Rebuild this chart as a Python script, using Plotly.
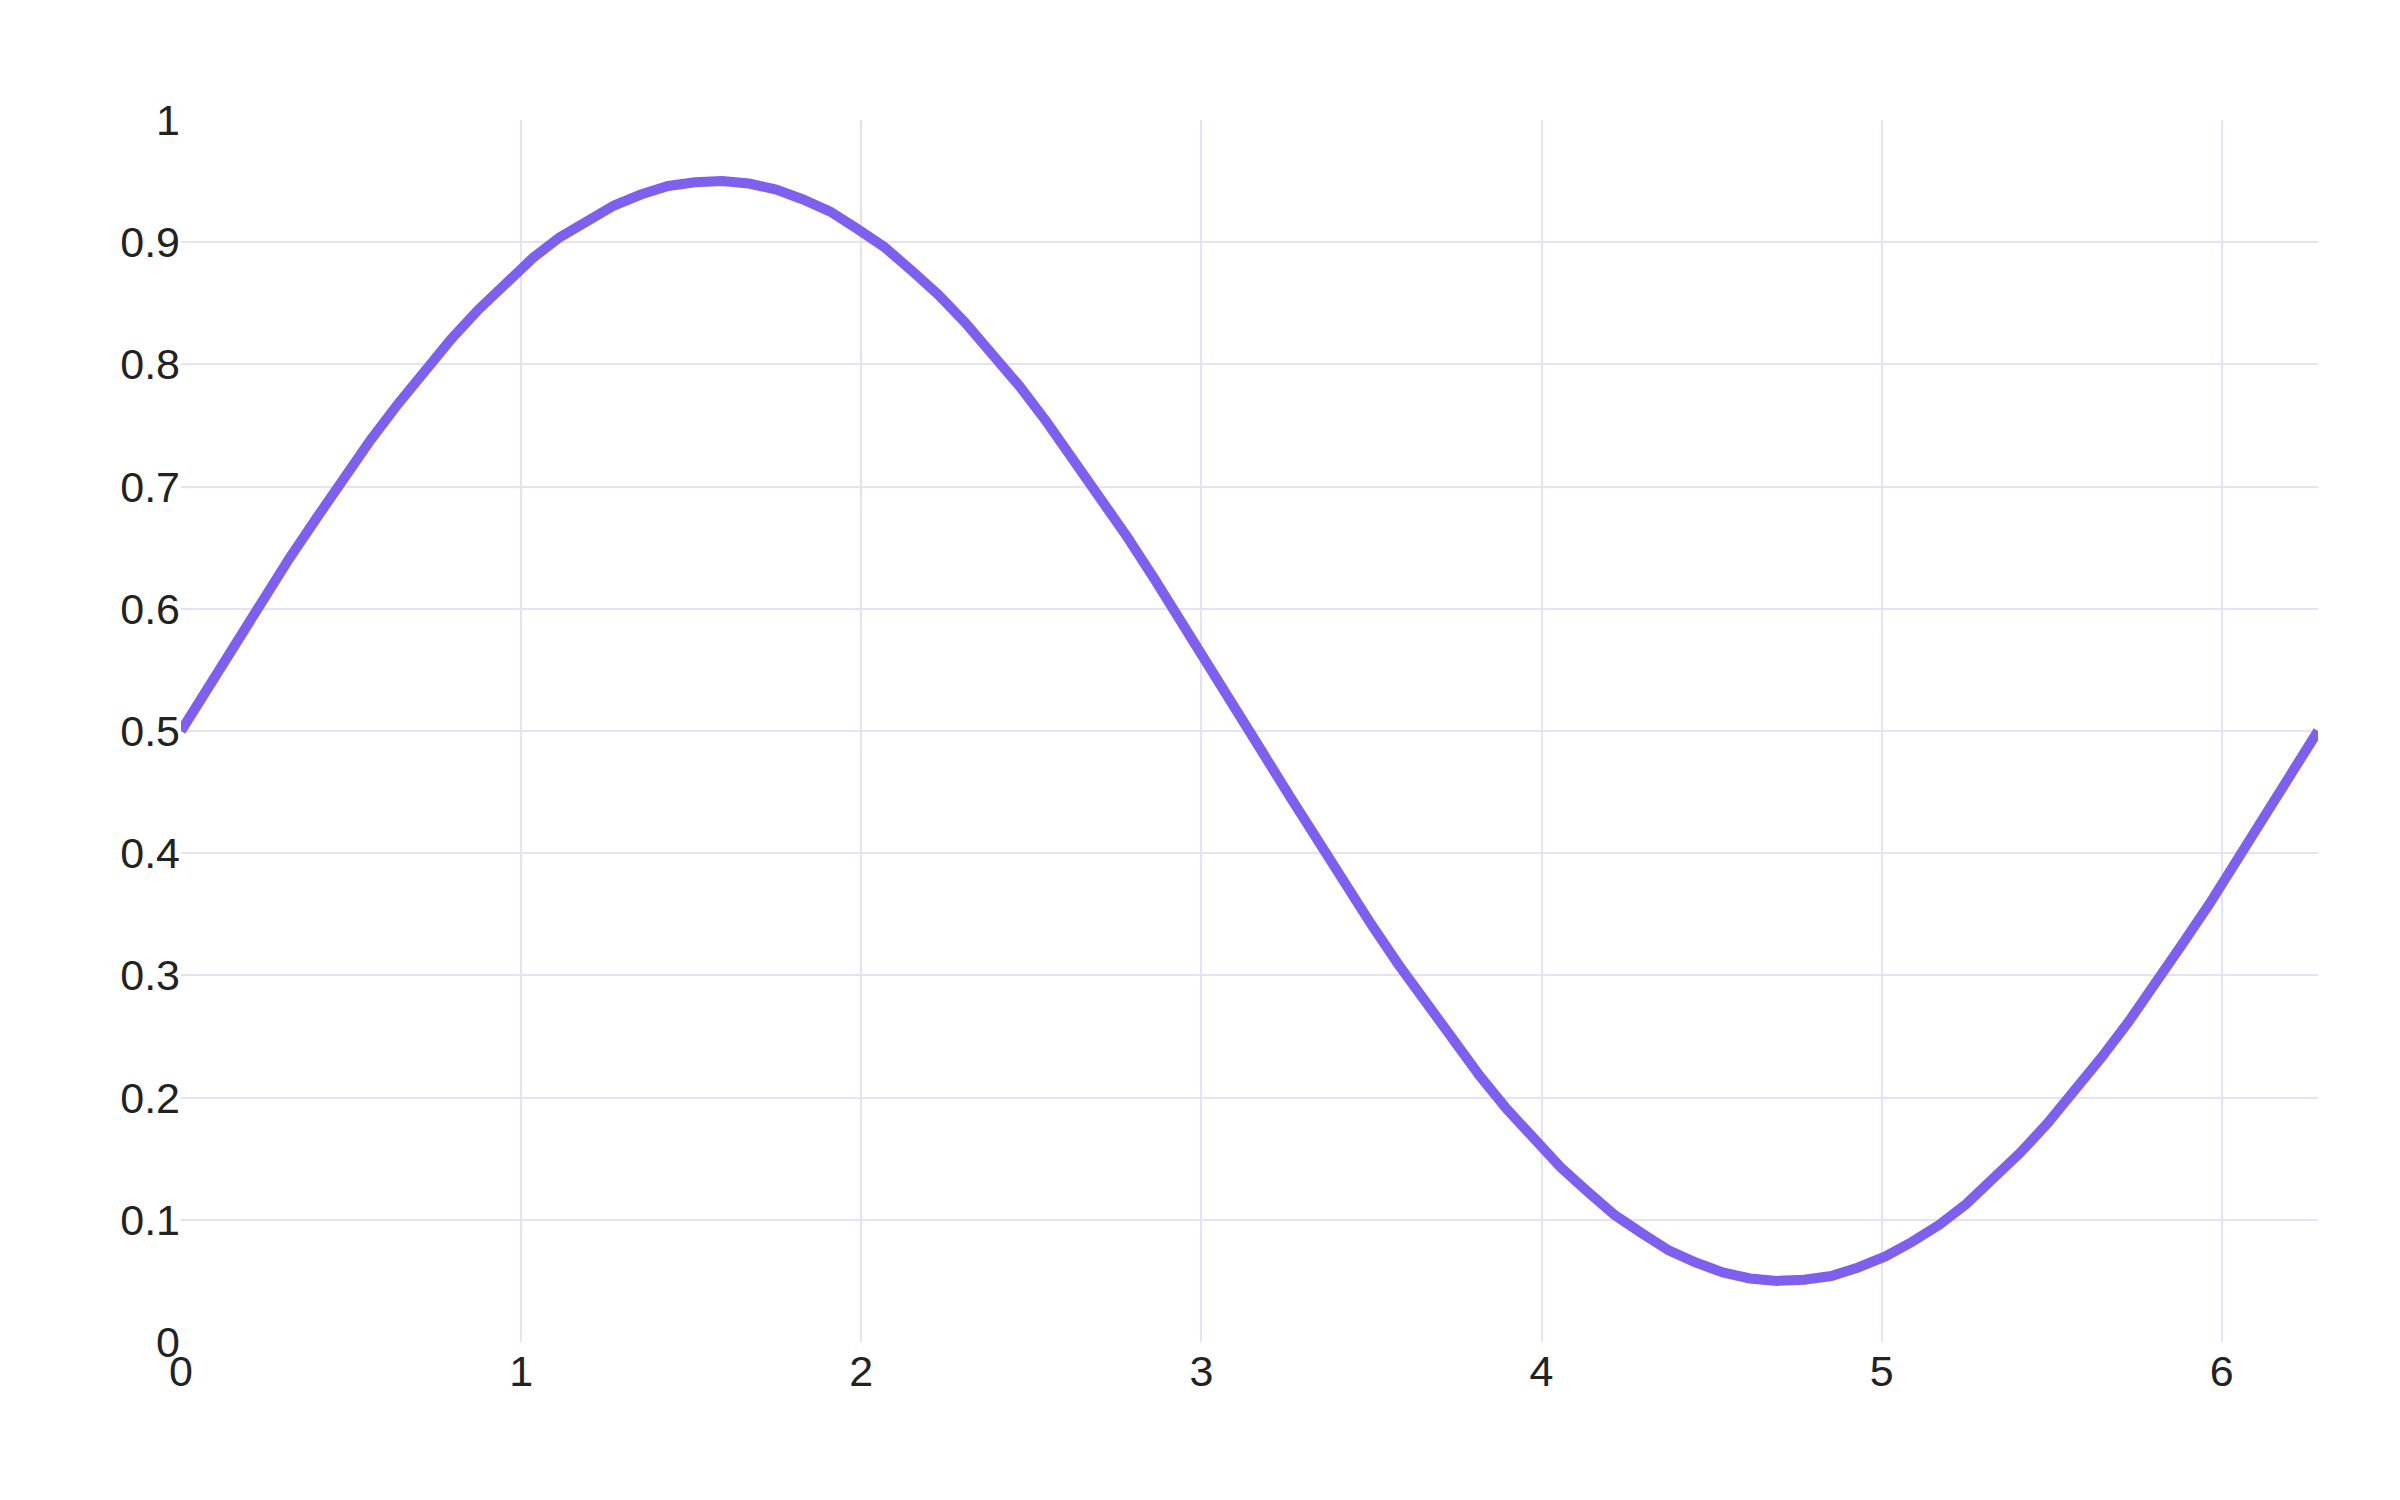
import plotly.graph_objects as go

x_values = [0.000, 0.080, 0.159, 0.239, 0.318, 0.398, 0.477, 0.557, 0.636, 0.716,
            0.795, 0.875, 0.954, 1.034, 1.113, 1.193, 1.273, 1.352, 1.432, 1.511,
            1.591, 1.670, 1.750, 1.829, 1.909, 1.988, 2.068, 2.147, 2.227, 2.306,
            2.386, 2.466, 2.545, 2.625, 2.704, 2.784, 2.863, 2.943, 3.022, 3.102,
            3.181, 3.261, 3.340, 3.420, 3.499, 3.579, 3.659, 3.738, 3.818, 3.897,
            3.977, 4.056, 4.136, 4.215, 4.295, 4.374, 4.454, 4.533, 4.613, 4.692,
            4.772, 4.852, 4.931, 5.011, 5.090, 5.170, 5.249, 5.329, 5.408, 5.488,
            5.567, 5.647, 5.726, 5.806, 5.885, 5.965, 6.045, 6.124, 6.204, 6.283]

y_values = [0.500, 0.536, 0.571, 0.606, 0.641, 0.674, 0.707, 0.738, 0.767, 0.795,
            0.821, 0.845, 0.867, 0.887, 0.904, 0.918, 0.930, 0.939, 0.946, 0.949,
            0.950, 0.948, 0.943, 0.935, 0.925, 0.911, 0.896, 0.877, 0.857, 0.834,
            0.809, 0.782, 0.753, 0.722, 0.691, 0.658, 0.624, 0.589, 0.554, 0.518,
            0.482, 0.446, 0.411, 0.376, 0.342, 0.309, 0.278, 0.247, 0.218, 0.191,
            0.166, 0.143, 0.123, 0.104, 0.089, 0.075, 0.065, 0.057, 0.052, 0.050,
            0.051, 0.054, 0.061, 0.070, 0.082, 0.096, 0.113, 0.133, 0.155, 0.179,
            0.205, 0.233, 0.262, 0.293, 0.326, 0.359, 0.394, 0.429, 0.464, 0.500]

x_ticks = [0, 1, 2, 3, 4, 5, 6]
y_ticks = [0, 0.1, 0.2, 0.3, 0.4, 0.5, 0.6, 0.7, 0.8, 0.9, 1]
y_tick_labels = ["0", "0.1", "0.2", "0.3", "0.4", "0.5", "0.6", "0.7", "0.8", "0.9", "1"]

LINE_COLOR = "#7F5FEE"
GRID_COLOR = "#E4E2F4"

fig = go.Figure(
    go.Scatter(
        x=x_values,
        y=y_values,
        mode="lines",
        line=dict(color=LINE_COLOR, width=10),
        showlegend=False,
    )
)

fig.update_layout(
    width=2400,
    height=1500,
    paper_bgcolor="white",
    plot_bgcolor="white",
    margin=dict(l=173, r=90, t=112, b=166, pad=0),
    font=dict(family="Liberation Sans, Arial, sans-serif", size=43, color="#222222"),
    xaxis=dict(
        range=[x_values[0], x_values[-1]],
        tickvals=x_ticks,
        ticktext=[str(t) for t in x_ticks],
        showgrid=True,
        gridcolor=GRID_COLOR,
        gridwidth=2,
        zeroline=False,
        showline=False,
        ticks="",
    ),
    yaxis=dict(
        range=[0, 1],
        tickvals=y_ticks,
        ticktext=y_tick_labels,
        showgrid=True,
        gridcolor=GRID_COLOR,
        gridwidth=2,
        zeroline=False,
        showline=False,
        ticks="",
    ),
)

fig.write_html("out.html")
